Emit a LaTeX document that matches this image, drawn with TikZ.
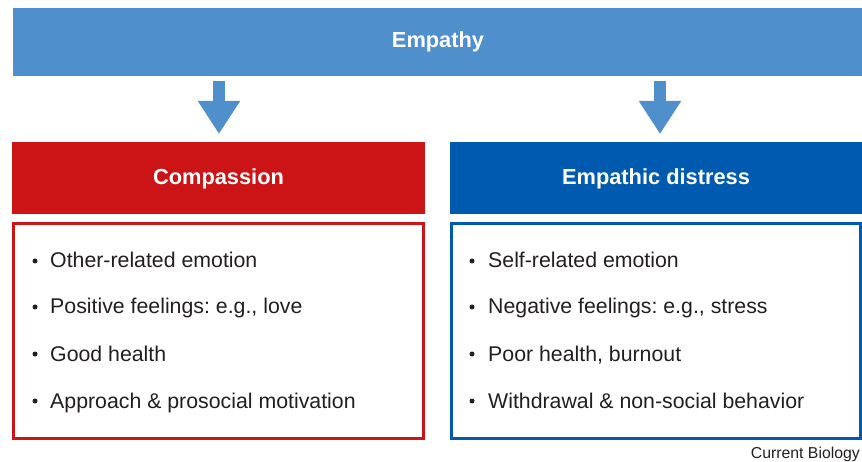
\documentclass[tikz,border=0pt]{standalone}
\usepackage{fontspec}
\setmainfont{Liberation Sans}
\usetikzlibrary{arrows.meta}
\definecolor{topblue}{HTML}{4F8FCB}
\definecolor{cred}{HTML}{CC1417}
\definecolor{cblue}{HTML}{005BB0}
\definecolor{txt}{HTML}{231F20}
\frenchspacing
\begin{document}
\begin{tikzpicture}[x=1pt,y=-1pt,
  hdr/.style={inner sep=0pt, outer sep=0pt, text=white, font=\fontsize{21.8}{24}\bfseries\selectfont},
  bodybox/.style={line width=3pt, fill=white},
  item/.style={anchor=base west, inner sep=0pt, text=txt, font=\fontsize{21.3}{24}\selectfont},
  dot/.style={circle, fill=txt, inner sep=0pt, minimum size=5pt},
  bigarrow/.style={draw=topblue, line width=12.7pt, -{Triangle[width=40pt,length=33pt]}}
]
\useasboundingbox (0,0) rectangle (862,462);
% top bar
\fill[topblue] (13,8) rectangle (862,76);
\node[hdr] (emp) at (438,41.5) {Empathy};
% headers
\fill[cred] (12,142) rectangle (425,214);
\node[hdr] (comp) at (218.5,178.5) {Compassion};
\fill[cblue] (450,142) rectangle (862,214);
\node[hdr] (dist) at (656,178.5) {Empathic distress};
% arrows
\coordinate (a1s) at (219,81);
\coordinate (a1e) at (219,134);
\coordinate (a2s) at (660,81);
\coordinate (a2e) at (660,134);
\draw[bigarrow] (a1s) -- (a1e);
\draw[bigarrow] (a2s) -- (a2e);
% body boxes
\draw[bodybox, draw=cred] (13.5,223.5) rectangle (423.5,438.5);
\draw[bodybox, draw=cblue] (451.5,223.5) rectangle (860.5,438.5);
% left items
\foreach \y/\t [count=\i] in {268/Other-related emotion, 314/{Positive feelings: e.g., love}, 361/Good health, 408/Approach \& prosocial motivation}{
  \node[dot] (ld\i) at (35,\y-7) {};
  \node[item] (lt\i) at (50,\y) {\t};
}
% right items
\foreach \y/\t [count=\i] in {268/Self-related emotion, 314/{Negative feelings: e.g., stress}, 361/{Poor health, burnout}, 408/Withdrawal \& non-social behavior}{
  \node[dot] (rd\i) at (472,\y-7) {};
  \node[item] (rt\i) at (488,\y) {\t};
}
\node[anchor=base east, inner sep=0pt, text=txt, font=\fontsize{15.8}{18}\selectfont] (cb) at (860,458) {Current Biology};
\end{tikzpicture}
\end{document}
